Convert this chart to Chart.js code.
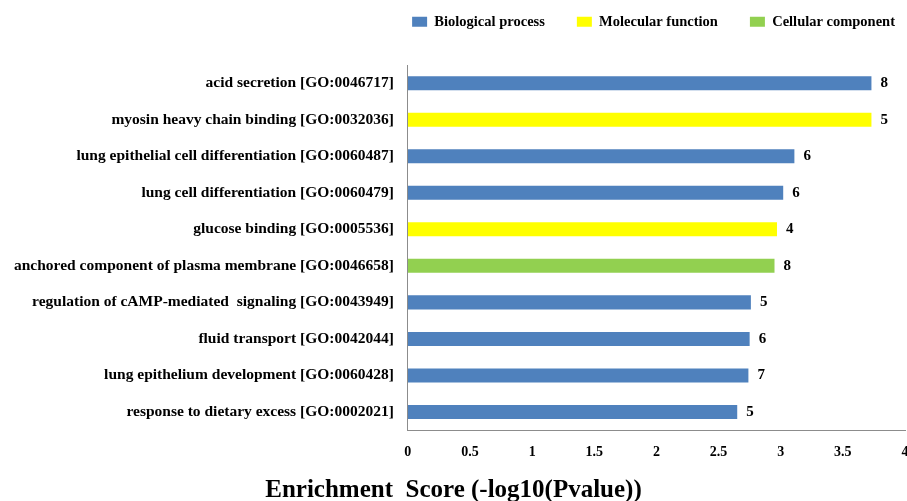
<!DOCTYPE html>
<html>
<head>
<meta charset="utf-8">
<script src="https://cdn.jsdelivr.net/npm/chart.js@4/dist/chart.umd.min.js"></script>
<style>
  html, body { margin: 0; padding: 0; background: #fff; }
  #wrap { width: 907px; height: 501px; }
</style>
</head>
<body>
<div id="wrap"><canvas id="goChart"></canvas></div>
<script>
// GO terms, top to bottom
var terms = [
    'acid secretion [GO:0046717]',
    'myosin heavy chain binding [GO:0032036]',
    'lung epithelial cell differentiation [GO:0060487]',
    'lung cell differentiation [GO:0060479]',
    'glucose binding [GO:0005536]',
    'anchored component of plasma membrane [GO:0046658]',
    'regulation of cAMP-mediated  signaling [GO:0043949]',
    'fluid transport [GO:0042044]',
    'lung epithelium development [GO:0060428]',
    'response to dietary excess [GO:0002021]'
];
var scores = [3.73, 3.73, 3.11, 3.02, 2.97, 2.95, 2.76, 2.75, 2.74, 2.65];
var geneCounts = [8, 5, 6, 6, 4, 8, 5, 6, 7, 5];
var termTypes = ['BP', 'MF', 'BP', 'BP', 'MF', 'CC', 'BP', 'BP', 'BP', 'BP'];
var xTicks = [0, 0.5, 1, 1.5, 2, 2.5, 3, 3.5, 4];

var typeNames = { BP: 'Biological process', MF: 'Molecular function', CC: 'Cellular component' };
var typeColors = { BP: '#4F81BD', MF: '#FFFF00', CC: '#92D050' };

var serif = '"Liberation Serif", "Times New Roman", serif';

function seriesFor(type) {
    return scores.map(function(v, i) { return termTypes[i] === type ? v : null; });
}

// gene count written just past the end of each bar
var countLabels = {
    id: 'countLabels',
    afterDatasetsDraw: function(chart) {
        var ctx = chart.ctx;
        ctx.save();
        ctx.font = 'bold 15px ' + serif;
        ctx.fillStyle = '#000';
        ctx.textAlign = 'left';
        ctx.textBaseline = 'middle';
        chart.data.datasets.forEach(function(ds, di) {
            var meta = chart.getDatasetMeta(di);
            meta.data.forEach(function(bar, i) {
                if (ds.data[i] === null) return;
                ctx.fillText(String(geneCounts[i]), bar.x + 9, bar.y);
            });
        });
        ctx.restore();
    }
};

// legend sits higher and further right than chart.js puts it
var legendNudge = {
    id: 'legendNudge',
    afterLayout: function(chart) {
        var lg = chart.legend;
        if (!lg) return;
        lg.left += 20; lg.right += 20;
        lg.top -= 26; lg.bottom -= 26;
    }
};

new Chart(document.getElementById('goChart').getContext('2d'), {
    type: 'bar',
    data: {
        labels: terms,
        datasets: ['BP', 'MF', 'CC'].map(function(t) {
            return {
                label: typeNames[t],
                data: seriesFor(t),
                backgroundColor: typeColors[t],
                borderWidth: 0,
                grouped: false,
                categoryPercentage: 0.8,
                barPercentage: 0.48
            };
        })
    },
    options: {
        indexAxis: 'y',
        responsive: true,
        maintainAspectRatio: false,
        animation: false,
        layout: { padding: { top: 8.5, right: 0, left: 0, bottom: -5 } },
        plugins: {
            legend: {
                position: 'top',
                align: 'end',
                labels: {
                    boxWidth: 15,
                    boxHeight: 10,
                    padding: 32,
                    color: '#000',
                    font: { family: serif, size: 14.5, weight: 'bold' }
                }
            },
            title: {
                display: true,
                position: 'bottom',
                text: 'Enrichment  Score (-log10(Pvalue))',
                color: '#000',
                font: { family: serif, size: 25, weight: 'bold' },
                padding: { top: 1, bottom: 0 }
            },
            tooltip: { enabled: false }
        },
        scales: {
            x: {
                min: 0,
                max: 4,
                afterBuildTicks: function(axis) {
                    axis.ticks = xTicks.map(function(v) { return { value: v }; });
                },
                afterFit: function(axis) {
                    axis.paddingRight = 2;
                },
                grid: { display: false, drawTicks: false },
                border: { display: true, color: '#8c8c8c', width: 1 },
                ticks: {
                    padding: 14,
                    color: '#000',
                    font: { family: serif, size: 14, weight: 'bold' },
                    callback: function(value) { return String(value); }
                }
            },
            y: {
                grid: { display: false, drawTicks: false },
                border: { display: true, color: '#8c8c8c', width: 1 },
                ticks: {
                    padding: 14,
                    color: '#000',
                    font: { family: serif, size: 15.5, weight: 'bold' }
                }
            }
        }
    },
    plugins: [countLabels, legendNudge]
});
</script>
</body>
</html>
